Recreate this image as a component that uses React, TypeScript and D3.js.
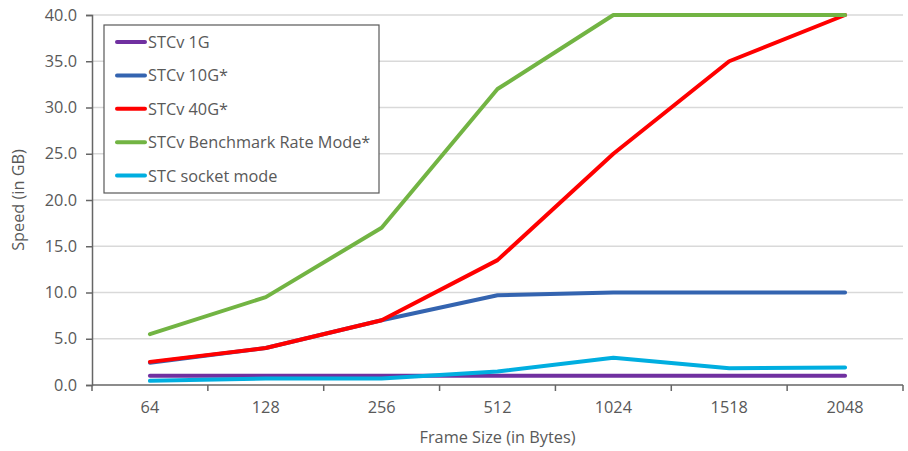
import React, { useEffect, useRef } from "react";
import * as d3 from "d3";

const frameSizes = ["64", "128", "256", "512", "1024", "1518", "2048"];
const stcv1g = [1.0, 1.0, 1.0, 1.0, 1.0, 1.0, 1.0];
const stcv10g = [2.4, 4.0, 7.0, 9.7, 10.0, 10.0, 10.0];
const stcv40g = [2.5, 4.0, 7.0, 13.5, 25.0, 35.0, 40.0];
const benchmark = [5.5, 9.5, 17.0, 32.0, 40.0, 40.0, 40.0];
const socketMode = [0.45, 0.7, 0.7, 1.45, 2.95, 1.8, 1.9];
const yTicks = [0, 5, 10, 15, 20, 25, 30, 35, 40];

const series = [
  { name: "STCv 1G", values: stcv1g, color: "#7030a0" },
  { name: "STCv 10G*", values: stcv10g, color: "#3464b0" },
  { name: "STCv 40G*", values: stcv40g, color: "#ff0000" },
  { name: "STCv Benchmark Rate Mode*", values: benchmark, color: "#72b443" },
  { name: "STC socket mode", values: socketMode, color: "#00aee0" },
];

export default function App() {
  const svgRef = useRef<SVGSVGElement>(null);

  useEffect(() => {
    const svg = d3.select(svgRef.current);
    svg.selectAll("*").remove();

    const width = 908;
    const height = 451;
    const margin = { top: 15, right: 5, bottom: 66, left: 92 };
    const font = "'Open Sans', 'DejaVu Sans', sans-serif";
    const fontSize = 16.3;
    const textColor = "#595959";

    const x = d3.scaleBand()
      .domain(frameSizes)
      .range([margin.left, width - margin.right]);

    const y = d3.scaleLinear()
      .domain([0, 40])
      .range([height - margin.bottom, margin.top]);

    // gridlines
    svg.append("g")
      .selectAll("line")
      .data(yTicks.slice(1))
      .join("line")
      .attr("x1", margin.left)
      .attr("x2", width - margin.right)
      .attr("y1", (d) => y(d))
      .attr("y2", (d) => y(d))
      .attr("stroke", "#d9d9d9")
      .attr("stroke-width", 1.5);

    // y axis
    const yAxis = svg.append("g")
      .attr("transform", `translate(${margin.left},0)`)
      .call(d3.axisLeft(y).tickValues(yTicks).tickFormat(d3.format(".1f")).tickSize(6).tickPadding(9));
    yAxis.select(".domain").attr("stroke", "#666").attr("stroke-width", 1.5);
    yAxis.selectAll(".tick line").attr("stroke", "#666").attr("stroke-width", 1.5);
    yAxis.selectAll(".tick text")
      .attr("font-family", font)
      .attr("font-size", fontSize)
      .attr("fill", textColor);

    // x axis with ticks at band boundaries
    const xAxisG = svg.append("g")
      .attr("transform", `translate(0,${height - margin.bottom})`);
    xAxisG.append("line")
      .attr("x1", margin.left)
      .attr("x2", width - margin.right)
      .attr("stroke", "#666")
      .attr("stroke-width", 1.5);
    const bounds = frameSizes.map((d) => x(d) as number).concat([x.range()[1]]);
    xAxisG.selectAll(".xt")
      .data(bounds)
      .join("line")
      .attr("class", "xt")
      .attr("x1", (d) => d)
      .attr("x2", (d) => d)
      .attr("y1", 0)
      .attr("y2", 6)
      .attr("stroke", "#666")
      .attr("stroke-width", 1.5);
    xAxisG.selectAll("text")
      .data(frameSizes)
      .join("text")
      .attr("x", (d) => (x(d) as number) + x.bandwidth() / 2)
      .attr("y", 28)
      .attr("text-anchor", "middle")
      .attr("font-family", font)
      .attr("font-size", fontSize)
      .attr("fill", textColor)
      .text((d) => d);

    // axis titles
    svg.append("text")
      .attr("x", (margin.left + width - margin.right) / 2)
      .attr("y", 443)
      .attr("text-anchor", "middle")
      .attr("font-family", font)
      .attr("font-size", fontSize)
      .attr("fill", textColor)
      .text("Frame Size (in Bytes)");

    svg.append("text")
      .attr("transform", `translate(24,${(margin.top + height - margin.bottom) / 2}) rotate(-90)`)
      .attr("text-anchor", "middle")
      .attr("font-family", font)
      .attr("font-size", fontSize)
      .attr("fill", textColor)
      .text("Speed (in GB)");

    // lines
    const line = d3.line<number>()
      .x((_, i) => (x(frameSizes[i]) as number) + x.bandwidth() / 2)
      .y((d) => y(d));

    svg.append("g")
      .selectAll("path")
      .data(series)
      .join("path")
      .attr("fill", "none")
      .attr("stroke", (d) => d.color)
      .attr("stroke-width", 4)
      .attr("stroke-linejoin", "round")
      .attr("stroke-linecap", "round")
      .attr("d", (d) => line(d.values));

    // legend
    const legend = svg.append("g").attr("transform", "translate(104,25)");
    legend.append("rect")
      .attr("width", 275)
      .attr("height", 168)
      .attr("fill", "white")
      .attr("stroke", "#595959")
      .attr("stroke-width", 1.2);
    const items = legend.selectAll(".item")
      .data(series)
      .join("g")
      .attr("class", "item")
      .attr("transform", (_, i) => `translate(0,${17 + i * 33.4})`);
    items.append("line")
      .attr("x1", 13)
      .attr("x2", 41)
      .attr("stroke", (d) => d.color)
      .attr("stroke-width", 4)
      .attr("stroke-linecap", "round");
    items.append("text")
      .attr("x", 44)
      .attr("y", 6)
      .attr("font-family", font)
      .attr("font-size", fontSize)
      .attr("fill", textColor)
      .text((d) => d.name);
  }, []);

  return (
    <div style={{ position: "absolute", left: 0, top: 0, background: "white" }}>
      <svg ref={svgRef} width="908" height="451"></svg>
    </div>
  );
}
